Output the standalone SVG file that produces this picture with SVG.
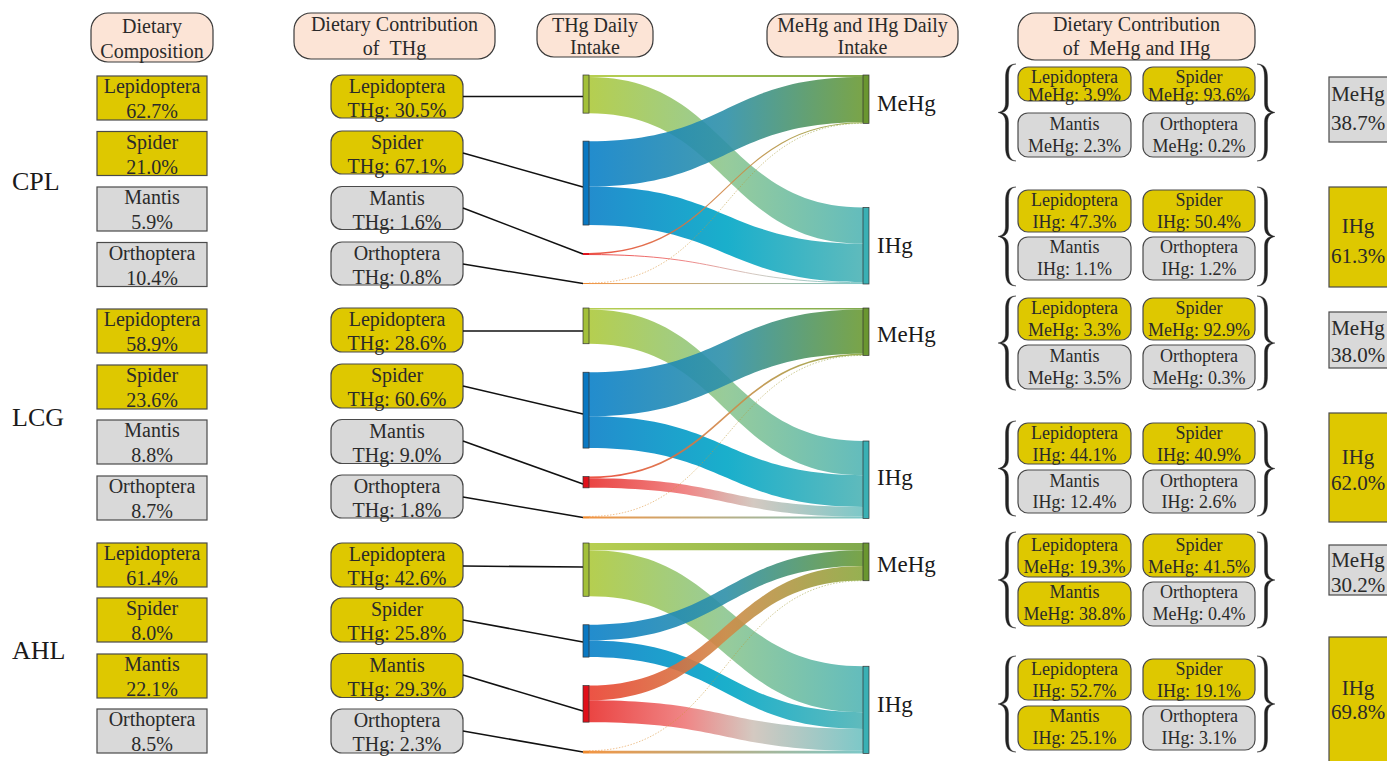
<svg xmlns="http://www.w3.org/2000/svg" width="1387" height="761" viewBox="0 0 1387 761">
<style>
text{font-family:"Liberation Serif","Times New Roman",serif;fill:#2a2a2a}
.hdr{fill:#FCE4D6;stroke:#3a3a3a;stroke-width:1.2}
.y{fill:#DEC800;stroke:#4a4a4a;stroke-width:1.2}
.g{fill:#D9D9D9;stroke:#4a4a4a;stroke-width:1.2}
.t20{font-size:20px;text-anchor:middle}
.t18{font-size:18px;text-anchor:middle}
.t21{font-size:21px;text-anchor:middle}
.lab{font-size:23px;fill:#1a1a1a}
.site{font-size:26px;fill:#1a1a1a}
.conn{stroke:#111;stroke-width:1.5;fill:none}
.brace{fill:#222;stroke:#222;stroke-width:0.4}
.band{opacity:0.9}
.thin{fill:none;opacity:0.9}
.nd{stroke:#333;stroke-width:0.7}
</style>
<defs>
<linearGradient id="gLM" gradientUnits="userSpaceOnUse" x1="589" y1="0" x2="863" y2="0"><stop offset="0" stop-color="#B0CA3E"/><stop offset="1" stop-color="#72A03A"/></linearGradient>
<linearGradient id="gLI" gradientUnits="userSpaceOnUse" x1="589" y1="0" x2="863" y2="0"><stop offset="0" stop-color="#ADC93C"/><stop offset="0.5" stop-color="#8CC690"/><stop offset="1" stop-color="#52B5B5"/></linearGradient>
<linearGradient id="gSM" gradientUnits="userSpaceOnUse" x1="589" y1="0" x2="863" y2="0"><stop offset="0" stop-color="#0A80C8"/><stop offset="0.5" stop-color="#2E90A8"/><stop offset="1" stop-color="#6B9A34"/></linearGradient>
<linearGradient id="gSI" gradientUnits="userSpaceOnUse" x1="589" y1="0" x2="863" y2="0"><stop offset="0" stop-color="#0A80C8"/><stop offset="0.5" stop-color="#00A6C6"/><stop offset="1" stop-color="#4DB3B5"/></linearGradient>
<linearGradient id="gMM" gradientUnits="userSpaceOnUse" x1="589" y1="0" x2="863" y2="0"><stop offset="0" stop-color="#EA4030"/><stop offset="0.5" stop-color="#D08A48"/><stop offset="1" stop-color="#8AA83E"/></linearGradient>
<linearGradient id="gMI" gradientUnits="userSpaceOnUse" x1="589" y1="0" x2="863" y2="0"><stop offset="0" stop-color="#E8302E"/><stop offset="0.35" stop-color="#EE7878"/><stop offset="0.6" stop-color="#CFC3BA"/><stop offset="1" stop-color="#6EC2C2"/></linearGradient>
<linearGradient id="gOM" gradientUnits="userSpaceOnUse" x1="589" y1="0" x2="863" y2="0"><stop offset="0" stop-color="#F08A30"/><stop offset="1" stop-color="#8AA83E"/></linearGradient>
<linearGradient id="gOI" gradientUnits="userSpaceOnUse" x1="589" y1="0" x2="863" y2="0"><stop offset="0" stop-color="#F08A30"/><stop offset="1" stop-color="#6EC2C2"/></linearGradient>
<path id="brace" d="M18,0 C10,0 7.5,5 7.5,14 L7.5,38 C7.5,44 5,47 0,48 C5,49 7.5,52 7.5,58 L7.5,82 C7.5,91 10,96 18,96 C12,95.3 10.5,91 10.5,82 L10.5,58 C10.5,52 8.5,49 3.5,48 C8.5,47 10.5,44 10.5,38 L10.5,14 C10.5,5 12,0.7 18,0 Z"/>
</defs>

<!-- Headers -->
<g id="hdr-diet-comp"><rect class="hdr" x="91" y="13" width="122" height="49" rx="17"/><text class="t20" x="152" y="33">Dietary</text><text class="t20" x="152" y="58">Composition</text></g>
<g id="hdr-contrib-thg"><rect class="hdr" x="294" y="13" width="201" height="46" rx="17"/><text class="t20" x="394.5" y="31">Dietary Contribution</text><text class="t20" x="394.5" y="55">of&#160;&#160;THg</text></g>
<g id="hdr-thg-intake"><rect class="hdr" x="537" y="14" width="116" height="43" rx="17"/><text class="t20" x="595" y="32">THg Daily</text><text class="t20" x="595" y="54">Intake</text></g>
<g id="hdr-mehg-ihg-intake"><rect class="hdr" x="767" y="14" width="191" height="43" rx="17"/><text class="t20" x="862.5" y="32">MeHg and IHg Daily</text><text class="t20" x="862.5" y="54">Intake</text></g>
<g id="hdr-contrib-mehg-ihg"><rect class="hdr" x="1018" y="13" width="237" height="47" rx="17"/><text class="t20" x="1136.5" y="31">Dietary Contribution</text><text class="t20" x="1136.5" y="55">of&#160;&#160;MeHg and IHg</text></g>

<!-- Site labels -->
<g id="site-cpl"><text class="site" x="12" y="190">CPL</text></g>
<g id="site-lcg"><text class="site" x="12" y="426">LCG</text></g>
<g id="site-ahl"><text class="site" x="12" y="659">AHL</text></g>

<!-- Dietary composition column -->
<g id="cpl-comp-lep"><rect class="y" x="97" y="76" width="110" height="44"/><text class="t20" x="152" y="93">Lepidoptera</text><text class="t20" x="152" y="118">62.7%</text></g>
<g id="cpl-comp-spi"><rect class="y" x="97" y="131.5" width="110" height="44"/><text class="t20" x="152" y="148.5">Spider</text><text class="t20" x="152" y="173.5">21.0%</text></g>
<g id="cpl-comp-man"><rect class="g" x="97" y="187" width="110" height="44"/><text class="t20" x="152" y="204">Mantis</text><text class="t20" x="152" y="229">5.9%</text></g>
<g id="cpl-comp-ort"><rect class="g" x="97" y="242.5" width="110" height="44"/><text class="t20" x="152" y="259.5">Orthoptera</text><text class="t20" x="152" y="284.5">10.4%</text></g>

<g id="lcg-comp-lep"><rect class="y" x="97" y="309" width="110" height="44"/><text class="t20" x="152" y="326">Lepidoptera</text><text class="t20" x="152" y="351">58.9%</text></g>
<g id="lcg-comp-spi"><rect class="y" x="97" y="365" width="110" height="44"/><text class="t20" x="152" y="382">Spider</text><text class="t20" x="152" y="407">23.6%</text></g>
<g id="lcg-comp-man"><rect class="g" x="97" y="420" width="110" height="44"/><text class="t20" x="152" y="437">Mantis</text><text class="t20" x="152" y="462">8.8%</text></g>
<g id="lcg-comp-ort"><rect class="g" x="97" y="476" width="110" height="44"/><text class="t20" x="152" y="493">Orthoptera</text><text class="t20" x="152" y="518">8.7%</text></g>

<g id="ahl-comp-lep"><rect class="y" x="97" y="543" width="110" height="44"/><text class="t20" x="152" y="560">Lepidoptera</text><text class="t20" x="152" y="585">61.4%</text></g>
<g id="ahl-comp-spi"><rect class="y" x="97" y="598" width="110" height="44"/><text class="t20" x="152" y="615">Spider</text><text class="t20" x="152" y="640">8.0%</text></g>
<g id="ahl-comp-man"><rect class="y" x="97" y="654" width="110" height="44"/><text class="t20" x="152" y="671">Mantis</text><text class="t20" x="152" y="696">22.1%</text></g>
<g id="ahl-comp-ort"><rect class="g" x="97" y="709" width="110" height="44"/><text class="t20" x="152" y="726">Orthoptera</text><text class="t20" x="152" y="751">8.5%</text></g>

<!-- THg contribution column -->
<g id="cpl-thg-lep"><rect class="y" x="331" y="75" width="132" height="43" rx="11"/><text class="t20" x="397" y="93">Lepidoptera</text><text class="t20" x="397" y="117">THg: 30.5%</text></g>
<g id="cpl-thg-spi"><rect class="y" x="331" y="131" width="132" height="43" rx="11"/><text class="t20" x="397" y="149">Spider</text><text class="t20" x="397" y="173">THg: 67.1%</text></g>
<g id="cpl-thg-man"><rect class="g" x="331" y="186.5" width="132" height="43" rx="11"/><text class="t20" x="397" y="204.5">Mantis</text><text class="t20" x="397" y="228.5">THg: 1.6%</text></g>
<g id="cpl-thg-ort"><rect class="g" x="331" y="242" width="132" height="43" rx="11"/><text class="t20" x="397" y="260">Orthoptera</text><text class="t20" x="397" y="284">THg: 0.8%</text></g>

<g id="lcg-thg-lep"><rect class="y" x="331" y="308" width="132" height="44" rx="11"/><text class="t20" x="397" y="326">Lepidoptera</text><text class="t20" x="397" y="350">THg: 28.6%</text></g>
<g id="lcg-thg-spi"><rect class="y" x="331" y="364" width="132" height="44" rx="11"/><text class="t20" x="397" y="382">Spider</text><text class="t20" x="397" y="406">THg: 60.6%</text></g>
<g id="lcg-thg-man"><rect class="g" x="331" y="419.5" width="132" height="44" rx="11"/><text class="t20" x="397" y="437.5">Mantis</text><text class="t20" x="397" y="461.5">THg: 9.0%</text></g>
<g id="lcg-thg-ort"><rect class="g" x="331" y="475" width="132" height="43" rx="11"/><text class="t20" x="397" y="493">Orthoptera</text><text class="t20" x="397" y="517">THg: 1.8%</text></g>

<g id="ahl-thg-lep"><rect class="y" x="331" y="543" width="132" height="44" rx="11"/><text class="t20" x="397" y="561">Lepidoptera</text><text class="t20" x="397" y="585">THg: 42.6%</text></g>
<g id="ahl-thg-spi"><rect class="y" x="331" y="598" width="132" height="44" rx="11"/><text class="t20" x="397" y="616">Spider</text><text class="t20" x="397" y="640">THg: 25.8%</text></g>
<g id="ahl-thg-man"><rect class="y" x="331" y="653.5" width="132" height="44" rx="11"/><text class="t20" x="397" y="671.5">Mantis</text><text class="t20" x="397" y="695.5">THg: 29.3%</text></g>
<g id="ahl-thg-ort"><rect class="g" x="331" y="709" width="132" height="44" rx="11"/><text class="t20" x="397" y="727">Orthoptera</text><text class="t20" x="397" y="751">THg: 2.3%</text></g>

<!-- Connectors and flows -->
<g id="connectors">
<line class="conn" x1="463" y1="96.5" x2="583" y2="96.5"/>
<line class="conn" x1="463" y1="153" x2="583" y2="187"/>
<line class="conn" x1="463" y1="208" x2="583" y2="254"/>
<line class="conn" x1="463" y1="264" x2="583" y2="283.5"/>
<line class="conn" x1="463" y1="331" x2="583" y2="331"/>
<line class="conn" x1="463" y1="386" x2="583" y2="414"/>
<line class="conn" x1="463" y1="441" x2="583" y2="484"/>
<line class="conn" x1="463" y1="497" x2="583" y2="517.5"/>
<line class="conn" x1="463" y1="566" x2="583" y2="567"/>
<line class="conn" x1="463" y1="620" x2="583" y2="642"/>
<line class="conn" x1="463" y1="675" x2="583" y2="711"/>
<line class="conn" x1="463" y1="731" x2="583" y2="752"/>

<!-- CPL flows -->
<path class="thin" stroke="url(#gLM)" stroke-width="1.9" d="M589,75.94 L863,75.94"/>
<path class="band" fill="url(#gLI)" d="M589,76.89 C726,76.89 726,207.38 863,207.38 L863,243.62 C726,243.62 726,113.13 589,113.13 Z"/>
<path class="band" fill="url(#gSM)" d="M589,141.13 C726,141.13 726,76.89 863,76.89 L863,122.17 C726,122.17 726,186.41 589,186.41 Z"/>
<path class="band" fill="url(#gSI)" d="M589,186.41 C726,186.41 726,243.62 863,243.62 L863,282.24 C726,282.24 726,225.03 589,225.03 Z"/>
<path class="thin" stroke="url(#gMM)" stroke-width="1.2" d="M589,253.59 C726,253.59 726,122.73 863,122.73"/>
<path class="thin" stroke="url(#gMI)" stroke-width="1" d="M589,254.56 C726,254.56 726,282.66 863,282.66"/>
<path class="thin" stroke="url(#gOM)" stroke-width="0.6" stroke-dasharray="1.5 1.5" d="M589,283.04 C726,283.04 726,123.33 863,123.33"/>
<path class="thin" stroke="url(#gOI)" stroke-width="1" d="M589,283.55 L863,283.54"/>

<!-- LCG flows -->
<path class="thin" stroke="url(#gLM)" stroke-width="1.6" d="M589,308.78 L863,308.78"/>
<path class="band" fill="url(#gLI)" d="M589,309.56 C726,309.56 726,441 863,441 L863,475.18 C726,475.18 726,343.74 589,343.74 Z"/>
<path class="band" fill="url(#gSM)" d="M589,372.24 C726,372.24 726,309.56 863,309.56 L863,353.69 C726,353.69 726,416.37 589,416.37 Z"/>
<path class="band" fill="url(#gSI)" d="M589,416.37 C726,416.37 726,475.18 863,475.18 L863,506.88 C726,506.88 726,448.07 589,448.07 Z"/>
<path class="thin" stroke="url(#gMM)" stroke-width="1.66" d="M589,477.4 C726,477.4 726,354.52 863,354.52"/>
<path class="band" fill="url(#gMI)" d="M589,478.23 C726,478.23 726,506.88 863,506.88 L863,516.49 C726,516.49 726,487.84 589,487.84 Z"/>
<path class="thin" stroke="url(#gOM)" stroke-width="0.6" stroke-dasharray="1.5 1.5" d="M589,516.41 C726,516.41 726,355.42 863,355.42"/>
<path class="thin" stroke="url(#gOI)" stroke-width="2" d="M589,517.49 L863,517.5"/>

<!-- AHL flows -->
<path class="band" fill="url(#gLM)" d="M589,543 L863,543 L863,550.29 L589,550.29 Z"/>
<path class="band" fill="url(#gLI)" d="M589,550.29 C726,550.29 726,666.25 863,666.25 L863,712.23 C726,712.23 726,596.27 589,596.27 Z"/>
<path class="band" fill="url(#gSM)" d="M589,624.77 C726,624.77 726,550.29 863,550.29 L863,565.95 C726,565.95 726,640.43 589,640.43 Z"/>
<path class="band" fill="url(#gSI)" d="M589,640.43 C726,640.43 726,712.23 863,712.23 L863,728.89 C726,728.89 726,657.09 589,657.09 Z"/>
<path class="band" fill="url(#gMM)" d="M589,685.59 C726,685.59 726,565.95 863,565.95 L863,580.6 C726,580.6 726,700.24 589,700.24 Z"/>
<path class="band" fill="url(#gMI)" d="M589,700.24 C726,700.24 726,728.89 863,728.89 L863,750.79 C726,750.79 726,722.14 589,722.14 Z"/>
<path class="thin" stroke="url(#gOM)" stroke-width="0.6" stroke-dasharray="1.5 1.5" d="M589,750.72 C726,750.72 726,580.68 863,580.68"/>
<path class="thin" stroke="url(#gOI)" stroke-width="2.7" d="M589,752.14 L863,752.14"/>
</g>

<!-- Sankey nodes -->
<g id="cpl-src-lep"><rect class="nd" x="583" y="75" width="6" height="38.13" fill="#A3C03A"/></g>
<g id="cpl-src-spi"><rect class="nd" x="583" y="141.13" width="6" height="83.9" fill="#0A78C2"/></g>
<g id="cpl-src-man"><rect x="583" y="253.03" width="6" height="1.96" fill="#E0101A"/></g>
<g id="cpl-src-ort"><rect x="583" y="282.99" width="6" height="1.01" fill="#EE8A2E"/></g>
<g id="cpl-mehg"><rect class="nd" x="863" y="75" width="6" height="48.38" fill="#6A9630"/><text class="lab" x="877" y="111">MeHg</text></g>
<g id="cpl-ihg"><rect class="nd" x="863" y="207.38" width="6" height="76.62" fill="#3AB0B4"/><text class="lab" x="877" y="253">IHg</text></g>

<g id="lcg-src-lep"><rect class="nd" x="583" y="308" width="6" height="35.74" fill="#A3C03A"/></g>
<g id="lcg-src-spi"><rect class="nd" x="583" y="372.24" width="6" height="75.83" fill="#0A78C2"/></g>
<g id="lcg-src-man"><rect class="nd" x="583" y="476.57" width="6" height="11.27" fill="#E0101A"/></g>
<g id="lcg-src-ort"><rect x="583" y="516.34" width="6" height="2.16" fill="#EE8A2E"/></g>
<g id="lcg-mehg"><rect class="nd" x="863" y="308" width="6" height="47.5" fill="#6A9630"/><text class="lab" x="877" y="342">MeHg</text></g>
<g id="lcg-ihg"><rect class="nd" x="863" y="441" width="6" height="77.5" fill="#3AB0B4"/><text class="lab" x="877" y="485">IHg</text></g>

<g id="ahl-src-lep"><rect class="nd" x="583" y="543" width="6" height="53.27" fill="#A3C03A"/></g>
<g id="ahl-src-spi"><rect class="nd" x="583" y="624.77" width="6" height="32.32" fill="#0A78C2"/></g>
<g id="ahl-src-man"><rect class="nd" x="583" y="685.59" width="6" height="36.55" fill="#E0101A"/></g>
<g id="ahl-src-ort"><rect x="583" y="750.64" width="6" height="2.85" fill="#EE8A2E"/></g>
<g id="ahl-mehg"><rect class="nd" x="863" y="543" width="6" height="37.75" fill="#6A9630"/><text class="lab" x="877" y="572">MeHg</text></g>
<g id="ahl-ihg"><rect class="nd" x="863" y="666.25" width="6" height="87.24" fill="#3AB0B4"/><text class="lab" x="877" y="712">IHg</text></g>

<!-- Right: contribution of MeHg and IHg -->
<g id="cpl-mehg-contrib">
<use href="#brace" class="brace" transform="translate(998,64) scale(1,1.01)"/>
<use href="#brace" class="brace" transform="translate(1275,64) scale(-1,1.01)"/>
<rect class="y" x="1018" y="67" width="113" height="34" rx="10"/><text class="t18" x="1074.5" y="83">Lepidoptera</text><text class="t18" x="1074.5" y="101">MeHg: 3.9%</text>
<rect class="y" x="1143" y="67" width="112" height="34" rx="10"/><text class="t18" x="1199" y="83">Spider</text><text class="t18" x="1199" y="101">MeHg: 93.6%</text>
<rect class="g" x="1018" y="113" width="113" height="44" rx="10"/><text class="t18" x="1074.5" y="130">Mantis</text><text class="t18" x="1074.5" y="152">MeHg: 2.3%</text>
<rect class="g" x="1143" y="113" width="112" height="44" rx="10"/><text class="t18" x="1199" y="130">Orthoptera</text><text class="t18" x="1199" y="152">MeHg: 0.2%</text>
</g>
<g id="cpl-ihg-contrib">
<use href="#brace" class="brace" transform="translate(998,187) scale(1,1.03)"/>
<use href="#brace" class="brace" transform="translate(1275,187) scale(-1,1.03)"/>
<rect class="y" x="1018" y="190" width="113" height="42" rx="10"/><text class="t18" x="1074.5" y="206">Lepidoptera</text><text class="t18" x="1074.5" y="228">IHg: 47.3%</text>
<rect class="y" x="1143" y="190" width="112" height="42" rx="10"/><text class="t18" x="1199" y="206">Spider</text><text class="t18" x="1199" y="228">IHg: 50.4%</text>
<rect class="g" x="1018" y="237" width="113" height="43" rx="10"/><text class="t18" x="1074.5" y="253">Mantis</text><text class="t18" x="1074.5" y="275">IHg: 1.1%</text>
<rect class="g" x="1143" y="237" width="112" height="43" rx="10"/><text class="t18" x="1199" y="253">Orthoptera</text><text class="t18" x="1199" y="275">IHg: 1.2%</text>
</g>
<g id="lcg-mehg-contrib">
<use href="#brace" class="brace" transform="translate(998,296) scale(1,0.98)"/>
<use href="#brace" class="brace" transform="translate(1275,296) scale(-1,0.98)"/>
<rect class="y" x="1018" y="298" width="113" height="42" rx="10"/><text class="t18" x="1074.5" y="314">Lepidoptera</text><text class="t18" x="1074.5" y="336">MeHg: 3.3%</text>
<rect class="y" x="1143" y="298" width="112" height="42" rx="10"/><text class="t18" x="1199" y="314">Spider</text><text class="t18" x="1199" y="336">MeHg: 92.9%</text>
<rect class="g" x="1018" y="345" width="113" height="44" rx="10"/><text class="t18" x="1074.5" y="362">Mantis</text><text class="t18" x="1074.5" y="384">MeHg: 3.5%</text>
<rect class="g" x="1143" y="345" width="112" height="44" rx="10"/><text class="t18" x="1199" y="362">Orthoptera</text><text class="t18" x="1199" y="384">MeHg: 0.3%</text>
</g>
<g id="lcg-ihg-contrib">
<use href="#brace" class="brace" transform="translate(998,421) scale(1,0.99)"/>
<use href="#brace" class="brace" transform="translate(1275,421) scale(-1,0.99)"/>
<rect class="y" x="1018" y="423" width="113" height="41" rx="10"/><text class="t18" x="1074.5" y="439">Lepidoptera</text><text class="t18" x="1074.5" y="461">IHg: 44.1%</text>
<rect class="y" x="1143" y="423" width="112" height="41" rx="10"/><text class="t18" x="1199" y="439">Spider</text><text class="t18" x="1199" y="461">IHg: 40.9%</text>
<rect class="g" x="1018" y="470" width="113" height="43" rx="10"/><text class="t18" x="1074.5" y="487">Mantis</text><text class="t18" x="1074.5" y="508">IHg: 12.4%</text>
<rect class="g" x="1143" y="470" width="112" height="43" rx="10"/><text class="t18" x="1199" y="487">Orthoptera</text><text class="t18" x="1199" y="508">IHg: 2.6%</text>
</g>
<g id="ahl-mehg-contrib">
<use href="#brace" class="brace" transform="translate(998,532)"/>
<use href="#brace" class="brace" transform="translate(1275,532) scale(-1,1)"/>
<rect class="y" x="1018" y="534" width="113" height="43" rx="10"/><text class="t18" x="1074.5" y="551">Lepidoptera</text><text class="t18" x="1074.5" y="573">MeHg: 19.3%</text>
<rect class="y" x="1143" y="534" width="112" height="43" rx="10"/><text class="t18" x="1199" y="551">Spider</text><text class="t18" x="1199" y="573">MeHg: 41.5%</text>
<rect class="y" x="1018" y="582" width="113" height="44" rx="10"/><text class="t18" x="1074.5" y="598">Mantis</text><text class="t18" x="1074.5" y="620">MeHg: 38.8%</text>
<rect class="g" x="1143" y="582" width="112" height="44" rx="10"/><text class="t18" x="1199" y="598">Orthoptera</text><text class="t18" x="1199" y="620">MeHg: 0.4%</text>
</g>
<g id="ahl-ihg-contrib">
<use href="#brace" class="brace" transform="translate(998,656)"/>
<use href="#brace" class="brace" transform="translate(1275,656) scale(-1,1)"/>
<rect class="y" x="1018" y="659" width="113" height="41" rx="10"/><text class="t18" x="1074.5" y="675">Lepidoptera</text><text class="t18" x="1074.5" y="697">IHg: 52.7%</text>
<rect class="y" x="1143" y="659" width="112" height="41" rx="10"/><text class="t18" x="1199" y="675">Spider</text><text class="t18" x="1199" y="697">IHg: 19.1%</text>
<rect class="y" x="1018" y="706" width="113" height="44" rx="10"/><text class="t18" x="1074.5" y="722">Mantis</text><text class="t18" x="1074.5" y="744">IHg: 25.1%</text>
<rect class="g" x="1143" y="706" width="112" height="44" rx="10"/><text class="t18" x="1199" y="722">Orthoptera</text><text class="t18" x="1199" y="744">IHg: 3.1%</text>
</g>

<!-- Summary boxes -->
<g id="cpl-mehg-total"><rect class="g" x="1329" y="77" width="62" height="65"/><text class="t21" x="1358" y="101">MeHg</text><text class="t21" x="1358" y="130">38.7%</text></g>
<g id="cpl-ihg-total"><rect class="y" x="1329" y="187" width="62" height="100"/><text class="t21" x="1358" y="233">IHg</text><text class="t21" x="1358" y="263">61.3%</text></g>
<g id="lcg-mehg-total"><rect class="g" x="1329" y="312" width="62" height="56"/><text class="t21" x="1358" y="335">MeHg</text><text class="t21" x="1358" y="362">38.0%</text></g>
<g id="lcg-ihg-total"><rect class="y" x="1329" y="413" width="62" height="109"/><text class="t21" x="1358" y="464">IHg</text><text class="t21" x="1358" y="490">62.0%</text></g>
<g id="ahl-mehg-total"><rect class="g" x="1329" y="545" width="62" height="50"/><text class="t21" x="1358" y="567">MeHg</text><text class="t21" x="1358" y="592">30.2%</text></g>
<g id="ahl-ihg-total"><rect class="y" x="1329" y="637" width="62" height="130"/><text class="t21" x="1358" y="695">IHg</text><text class="t21" x="1358" y="719">69.8%</text></g>
</svg>
